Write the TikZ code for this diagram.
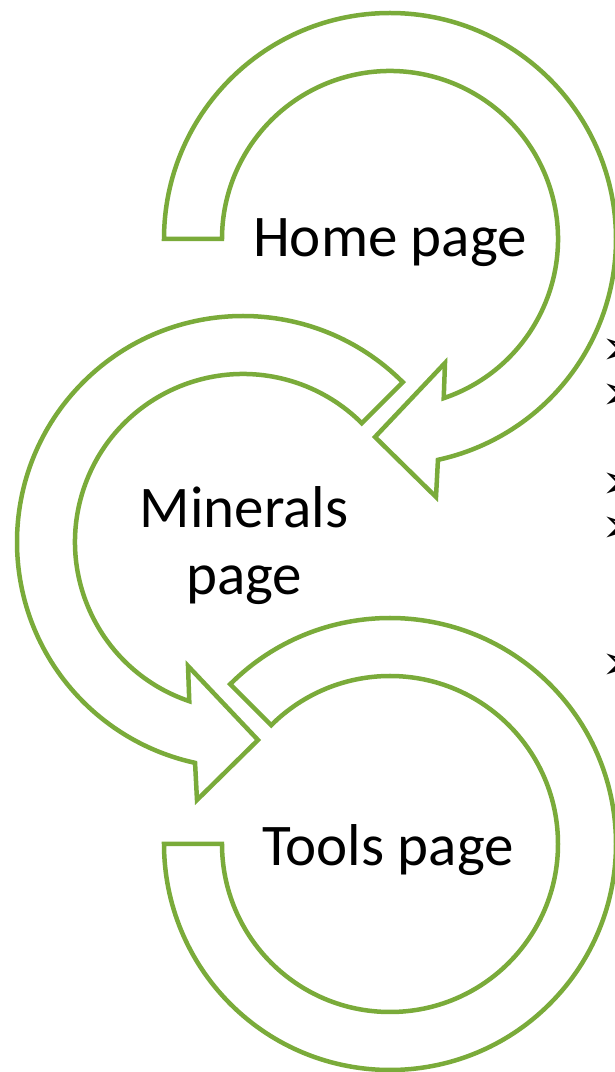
\documentclass[tikz,border=0pt]{standalone}
\usepackage{fontspec}
\setmainfont{Carlito}
\newfontfamily\symbolfont{DejaVu Sans}
\definecolor{bandgreen}{RGB}{122,171,58}

\begin{document}
\begin{tikzpicture}[x=1pt,y=1pt,
        band/.style={draw=bandgreen,line width=4.5pt,line join=miter,fill=white},
        page label/.style={font=\fontsize{59}{67}\selectfont,align=center,inner sep=0pt,anchor=base},
        bullet node/.style={font=\symbolfont\fontsize{48}{48}\selectfont,inner sep=0pt,anchor=west}]

    \clip (0,0) rectangle (615,1072);

    % home page arrow
    \draw[band,shift={(390,833)}] (180:226) arc[start angle=180,end angle=-77.75,radius=226]
        -- (46,-258) -- (-15,-198) -- (55,-124) -- (-71.35:168)
        arc[start angle=-71.35,end angle=180,radius=168] -- cycle;
    % minerals page arrow
    \draw[band,shift={(243,530)}] (45:226) arc[start angle=45,end angle=257.75,radius=226]
        -- (-46,-258) -- (15,-198) -- (-55,-124) -- (251.35:168)
        arc[start angle=251.35,end angle=45,radius=168] -- cycle;
    % tools page arrow
    \draw[band,shift={(390,228)}] (135:226) arc[start angle=135,end angle=-180,radius=226]
        -- (-180:168) arc[start angle=-180,end angle=135,radius=168] -- cycle;

    \node[page label] (home) at (390,815) {Home page};
    \node[page label] (minerals) at (244,477) {Minerals\\page};
    \node[page label] (tools) at (388,206) {Tools page};

    \foreach \y [count=\i] in {720,675,586,542,405}
        \node[bullet node] (bullet\i) at (601,\y) {➢};
\end{tikzpicture}
\end{document}
